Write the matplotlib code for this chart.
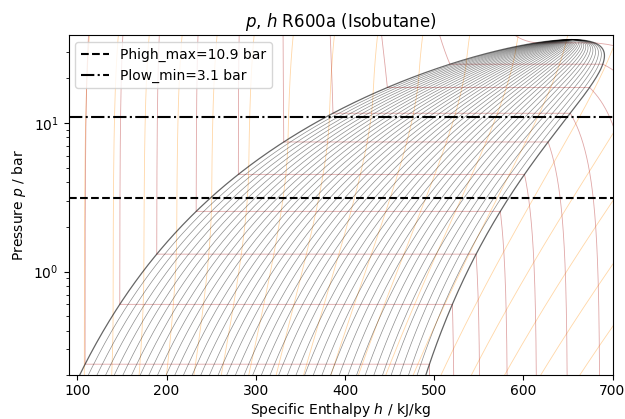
import numpy as np
import matplotlib
matplotlib.use("Agg")
import matplotlib.pyplot as plt

np.seterr(all="ignore")

# R600a (isobutane) fluid constants
Tc = 407.81            # K
pc = 36.29e5           # Pa
omega = 0.184
M = 0.0581222          # kg/mol
cp_coef = [-1.390, 3.847e-1, -1.846e-4, 2.895e-8]   # ideal gas cp, J/mol/K

# isolines drawn on the chart
quality_levels = [0.025, 0.05, 0.075, 0.1, 0.125, 0.15, 0.175, 0.2, 0.225, 0.25,
                  0.275, 0.3, 0.325, 0.35, 0.375, 0.4, 0.425, 0.45, 0.475, 0.5,
                  0.525, 0.55, 0.575, 0.6, 0.625, 0.65, 0.675, 0.7, 0.725, 0.75,
                  0.775, 0.8, 0.825, 0.85, 0.875, 0.9, 0.925, 0.95, 0.975]
isotherms_C = [-44.0, -24.5, -5.0, 14.5, 34.0, 53.5, 73.0, 92.5, 112.0, 131.5]
isentropes_s = [0.497, 0.633, 0.769, 0.905, 1.041, 1.177, 1.313, 1.449, 1.585,
                1.721, 1.857, 1.993, 2.129, 2.265, 2.401, 2.537, 2.673, 2.809,
                2.945, 3.081, 3.217, 3.353]   # kJ/kg/K

# marked pressures (bar) with the labels used in the chart
p_marks = [3.1, 10.9]
p_mark_labels = ["Phigh_max=10.9 bar", "Plow_min=3.1 bar"]
p_mark_styles = ["--", "-."]

h_range = [90, 700]      # kJ/kg
p_range = [0.2, 39.0]    # bar

# Peng-Robinson equation of state
R = 8.314462618
ac = 0.45724 * R**2 * Tc**2 / pc
b = 0.07780 * R * Tc / pc
kap = 0.37464 + 1.54226 * omega - 0.26992 * omega**2
sq2 = np.sqrt(2.0)
Zc = 0.307401


def a_T(T):
    sa = 1 + kap * (1 - np.sqrt(T / Tc))
    return ac * sa**2, -ac * kap * sa / np.sqrt(T * Tc)


def z_roots(T, p):
    a, _ = a_T(T)
    A = a * p / (R * T)**2
    B = b * p / (R * T)
    c2 = B - 1
    c1 = A - 3 * B**2 - 2 * B
    c0 = -(A * B - B**2 - B**3)
    P = c1 - c2**2 / 3
    Q = 2 * c2**3 / 27 - c2 * c1 / 3 + c0
    D = (Q / 2)**2 + (P / 3)**3
    sD = np.sqrt(np.maximum(D, 0))
    one = np.cbrt(-Q / 2 + sD) + np.cbrt(-Q / 2 - sD) - c2 / 3
    Pn = np.minimum(P, -1e-30)
    m = 2 * np.sqrt(-Pn / 3)
    th = np.arccos(np.clip(3 * Q / (Pn * m), -1, 1))
    zv = np.where(D > 0, one, m * np.cos(th / 3) - c2 / 3)
    zl = np.where(D > 0, one, m * np.cos(th / 3 - 4 * np.pi / 3) - c2 / 3)
    zl = np.maximum(zl, B * (1 + 1e-9))
    return zl, zv, A, B


def ln_phi(Z, A, B):
    L = np.log((Z + (1 + sq2) * B) / (Z + (1 - sq2) * B))
    return Z - 1 - np.log(Z - B) - A / (2 * sq2 * B) * L


def h_s_raw(T, p, Z):
    a, da = a_T(T)
    B = b * p / (R * T)
    L = np.log((Z + (1 + sq2) * B) / (Z + (1 - sq2) * B))
    k0, k1, k2, k3 = cp_coef
    T0 = 273.15
    h_ig = k0*(T-T0) + k1/2*(T**2-T0**2) + k2/3*(T**3-T0**3) + k3/4*(T**4-T0**4)
    s_ig = (k0*np.log(T/T0) + k1*(T-T0) + k2/2*(T**2-T0**2) + k3/3*(T**3-T0**3)
            - R*np.log(p/1e5))
    h_res = R * T * (Z - 1) + (T * da - a) / (2 * sq2 * b) * L
    s_res = R * np.log(Z - B) + da / (2 * sq2 * b) * L
    return (h_ig + h_res) / M / 1000, (s_ig + s_res) / M / 1000


def p_sat(T):
    T = np.atleast_1d(np.asarray(T, float))
    lo = np.zeros_like(T)
    hi = np.full_like(T, np.log(pc))
    for _ in range(80):
        mid = 0.5 * (lo + hi)
        p = np.exp(mid)
        zl, zv, A, B = z_roots(T, p)
        three = zv - zl > 1e-10
        low = np.where(three, ln_phi(zl, A, B) > ln_phi(zv, A, B),
                       zv * T / p > Zc * Tc / pc)
        lo = np.where(low, mid, lo)
        hi = np.where(low, hi, mid)
    return np.exp(0.5 * (lo + hi))


def z_stable(T, p):
    zl, zv, A, B = z_roots(T, p)
    return np.where(ln_phi(zl, A, B) < ln_phi(zv, A, B), zl, zv)


# IIR reference: h=200 kJ/kg, s=1 kJ/kg/K for saturated liquid at 0 C
T_ref = np.array([273.15])
p_ref = p_sat(T_ref)
h_raw, s_raw = h_s_raw(T_ref, p_ref, z_roots(T_ref, p_ref)[0])
h_off = 200.0 - h_raw[0]
s_off = 1.0 - s_raw[0]


def h_s(T, p, Z):
    h, s = h_s_raw(T, p, Z)
    return h + h_off, s + s_off


# saturation dome
T_sat = Tc - (Tc - 205.0) * np.linspace(1, 0.02, 300)**2
P_sat = p_sat(T_sat)
zl_s, zv_s, _, _ = z_roots(T_sat, P_sat)
hl, sl = h_s(T_sat, P_sat, zl_s)
hv, sv = h_s(T_sat, P_sat, zv_s)
hc, sc = h_s(np.array([Tc]), np.array([pc]), np.array([Zc]))
P_sat = np.append(P_sat, pc)
hl = np.append(hl, hc)
hv = np.append(hv, hc)
sl = np.append(sl, sc)
sv = np.append(sv, sc)

p_line = np.geomspace(1.8e4, 4.2e6, 300)

fig = plt.figure(figsize=(6.25, 4.19), dpi=100)
ax = fig.add_axes([0.1096, 0.104, 0.8704, 0.8126])

# isentropes
S0 = np.array(isentropes_s)[:, None]
PP = np.ones_like(S0) * p_line[None, :]
lo = np.full(PP.shape, 150.0)
hi = np.full(PP.shape, 800.0)
for _ in range(60):
    mid = 0.5 * (lo + hi)
    s_mid = h_s(mid, PP, z_stable(mid, PP))[1]
    up = s_mid < S0
    lo = np.where(up, mid, lo)
    hi = np.where(up, hi, mid)
TT = 0.5 * (lo + hi)
h_1, s_1 = h_s(TT, PP, z_stable(TT, PP))
ok = np.abs(s_1 - S0) < 0.003
for i, s0 in enumerate(isentropes_s):
    two = (sl <= s0) & (sv >= s0) & (sv > sl)
    x = (s0 - sl[two]) / (sv[two] - sl[two])
    h_all = np.concatenate([h_1[i][ok[i]], hl[two] + x * (hv[two] - hl[two])])
    p_all = np.concatenate([PP[i][ok[i]], P_sat[two]])
    order = np.argsort(p_all)
    ax.plot(h_all[order], p_all[order] / 1e5, color="darkorange", lw=0.6, alpha=0.35)

# isotherms
for tC in isotherms_C:
    T = tC + 273.15
    if T < Tc:
        ps = p_sat(T)[0]
        pv = np.append(p_line[p_line < ps], ps)
        pl = np.insert(p_line[p_line > ps], 0, ps)
        h_v = h_s(np.full_like(pv, T), pv, z_roots(np.full_like(pv, T), pv)[1])[0]
        h_l = h_s(np.full_like(pl, T), pl, z_roots(np.full_like(pl, T), pl)[0])[0]
        h_iso = np.concatenate([h_v, h_l])
        p_iso = np.concatenate([pv, pl])
    else:
        Ts = np.full_like(p_line, T)
        h_iso = h_s(Ts, p_line, z_stable(Ts, p_line))[0]
        p_iso = p_line
    ax.plot(h_iso, p_iso / 1e5, color="firebrick", lw=0.6, alpha=0.4)

# quality lines and dome
for q in quality_levels:
    ax.plot(hl + q * (hv - hl), P_sat / 1e5, color="k", lw=0.5, alpha=0.45)
ax.plot(hl, P_sat / 1e5, color="k", lw=0.9, alpha=0.6)
ax.plot(hv, P_sat / 1e5, color="k", lw=0.9, alpha=0.6)

for pm, lab, ls in zip(p_marks, p_mark_labels, p_mark_styles):
    ax.axhline(pm, color="k", ls=ls, lw=1.5, label=lab)

ax.set_yscale("log")
ax.set_xlim(h_range)
ax.set_ylim(p_range)
ax.tick_params(axis="x", pad=2.5)
ax.set_title(r"$p$, $h$ R600a (Isobutane)")
ax.set_xlabel(r"Specific Enthalpy $h$ / kJ/kg", labelpad=2)
ax.set_ylabel(r"Pressure $p$ / bar")
ax.legend(loc="upper left")

fig.savefig("out.png", dpi=100)
